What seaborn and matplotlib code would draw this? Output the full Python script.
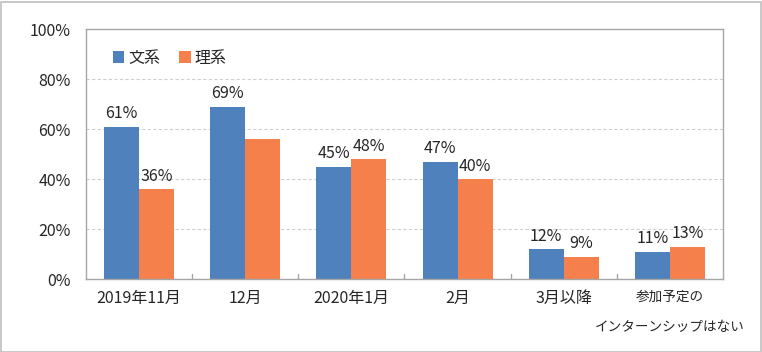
import seaborn as sns
from matplotlib import pyplot as plt
from matplotlib.patches import Patch, Rectangle
import pandas as pd

categories = ['2019年11月', '12月', '2020年1月', '2月', '3月以降', '参加予定の\nインターンシップはない']
bunkei = [61, 69, 45, 47, 12, 11]
rikei = [36, 56, 48, 40, 9, 13]
# the 12月 理系 bar has no data label in the original
rikei_labels = ['36%', '', '48%', '40%', '9%', '13%']
bunkei_labels = [f'{v}%' for v in bunkei]
series = ['文系', '理系']
colors = ['#4F81BD', '#F6804B']

sns.set_style('white')
plt.rcParams['font.family'] = ['Noto Sans CJK JP', 'DejaVu Sans']

df = pd.DataFrame({
    'category': categories * 2,
    'value': bunkei + rikei,
    'series': [series[0]] * len(categories) + [series[1]] * len(categories),
})

fig = plt.figure(figsize=(7.62, 3.52), dpi=100)
ax = fig.add_axes([86 / 762, 73 / 352, 637 / 762, 250 / 352])

sns.barplot(data=df, x='category', y='value', hue='series', order=categories,
            hue_order=series, palette=colors, width=0.66, saturation=1,
            linewidth=0, legend=False, ax=ax)

for container, labels in zip(ax.containers, [bunkei_labels, rikei_labels]):
    ax.bar_label(container, labels=labels, padding=3, fontsize=11.5)

ax.set_ylim(0, 100)
ax.set_xlim(-0.5, len(categories) - 0.5)
ax.set_yticks(range(0, 101, 20))
ax.set_yticklabels([f'{t}%' for t in range(0, 101, 20)], fontsize=11.5)
ax.set_xticks(range(len(categories)))
ax.set_xticklabels(categories, fontsize=11.5, linespacing=2.1, va='top')
# the long two-line label is narrower in the original font
last = ax.get_xticklabels()[-1]
last.set_fontsize(9.8)
last.set_linespacing(2.45)
ax.tick_params(axis='x', length=0, pad=8)
ax.tick_params(axis='y', length=0, pad=11)
ax.set_xlabel('')
ax.set_ylabel('')
ax.yaxis.grid(True, color='#D0D0D0', linestyle=(0, (3, 2)), linewidth=0.8)
ax.set_axisbelow(True)
for s in ax.spines.values():
    s.set_color('#A6A6A6')
    s.set_linewidth(1)

# inward category separators along the bottom axis
for b in range(1, len(categories)):
    ax.plot([b - 0.5, b - 0.5], [0, 2], color='#A6A6A6', linewidth=1, clip_on=False)

handles = [Patch(facecolor=c, edgecolor='none') for c in colors]
ax.legend(handles, series, loc='upper left', bbox_to_anchor=(0.02, 0.975), ncol=2,
          frameon=False, fontsize=11.5, handlelength=0.7, handleheight=0.7,
          handletextpad=0.25, columnspacing=1.2)

fig.patches.append(Rectangle((0.5 / 762, 0.5 / 352), 760 / 762, 350 / 352,
                             transform=fig.transFigure, fill=False,
                             edgecolor='#BFBFBF', linewidth=1.2))

fig.savefig('out.png', dpi=100)
